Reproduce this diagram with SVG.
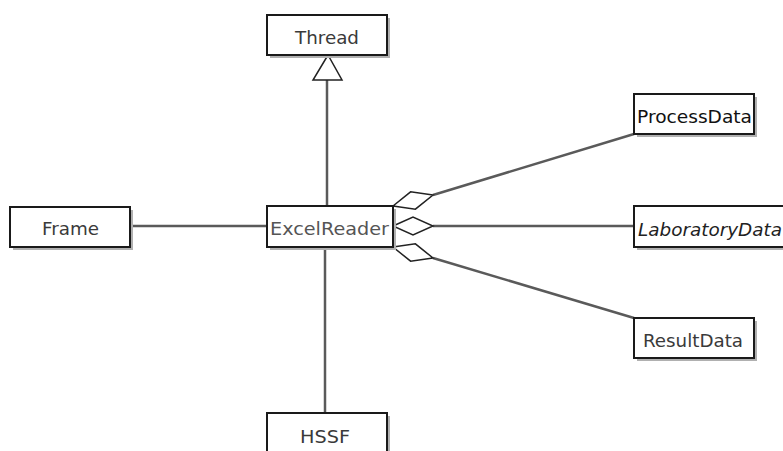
<svg xmlns="http://www.w3.org/2000/svg" width="783" height="451" viewBox="0 0 783 451">
<style>
.shadow{fill:#b0b0b0}
.box{fill:#fff;stroke:#1a1a1a;stroke-width:2}
.lbl{font-family:"DejaVu Sans","Liberation Sans",sans-serif;font-size:17px;fill:#3a3a3a}
.conn{stroke:#5a5a5a;stroke-width:2.5;fill:none}
.head{fill:#fff;stroke:#222;stroke-width:1.5;stroke-linejoin:miter}
</style>
<rect width="783" height="451" fill="#fff"/>
<g id="connectors">
<line class="conn" x1="327" y1="80" x2="327" y2="206"/>
<polygon class="head" points="328,55 313,80 342,80"/>
<line class="conn" x1="130" y1="226" x2="267" y2="226"/>
<line class="conn" x1="325" y1="247" x2="325" y2="413"/>
<line class="conn" x1="433" y1="195" x2="634" y2="134"/>
<line class="conn" x1="433" y1="226" x2="634" y2="226"/>
<line class="conn" x1="433" y1="258" x2="634" y2="318"/>
<polygon class="head" points="393,206 410.6,191.8 433,195 415.4,209.2"/>
<polygon class="head" points="393,226 413,217 433,226 413,235"/>
<polygon class="head" points="393,247 415.4,243.8 433,258 410.6,261.2"/>
</g>
<g id="Thread">
<rect class="shadow" x="270" y="18" width="120" height="40"/>
<rect class="box" x="267" y="15" width="120" height="40"/>
<text class="lbl" x="295" y="44" textLength="64" lengthAdjust="spacingAndGlyphs">Thread</text>
</g>
<g id="Frame">
<rect class="shadow" x="13" y="210" width="120" height="40"/>
<rect class="box" x="10" y="207" width="120" height="40"/>
<text class="lbl" x="42" y="235" textLength="57" lengthAdjust="spacingAndGlyphs">Frame</text>
</g>
<g id="ExcelReader">
<rect class="shadow" x="270" y="209" width="126" height="41"/>
<rect class="box" x="267" y="206" width="126" height="41"/>
<text class="lbl" x="270" y="235" textLength="119" lengthAdjust="spacingAndGlyphs" style="fill:#555">ExcelReader</text>
</g>
<g id="ProcessData">
<rect class="shadow" x="637" y="97" width="120" height="40"/>
<rect class="box" x="634" y="94" width="120" height="40"/>
<text class="lbl" x="637" y="123" textLength="115" lengthAdjust="spacingAndGlyphs" style="fill:#111">ProcessData</text>
</g>
<g id="LaboratoryData">
<rect class="shadow" x="637" y="209" width="150" height="41"/>
<rect class="box" x="634" y="206" width="150" height="41"/>
<text class="lbl" x="638" y="236" textLength="144" lengthAdjust="spacingAndGlyphs" style="fill:#222;font-style:italic">LaboratoryData</text>
</g>
<g id="ResultData">
<rect class="shadow" x="637" y="321" width="120" height="40"/>
<rect class="box" x="634" y="318" width="120" height="40"/>
<text class="lbl" x="643" y="347" textLength="100" lengthAdjust="spacingAndGlyphs">ResultData</text>
</g>
<g id="HSSF">
<rect class="shadow" x="270" y="416" width="120" height="45"/>
<rect class="box" x="267" y="413" width="120" height="45"/>
<text class="lbl" x="300" y="443" textLength="50" lengthAdjust="spacingAndGlyphs">HSSF</text>
</g>
</svg>
